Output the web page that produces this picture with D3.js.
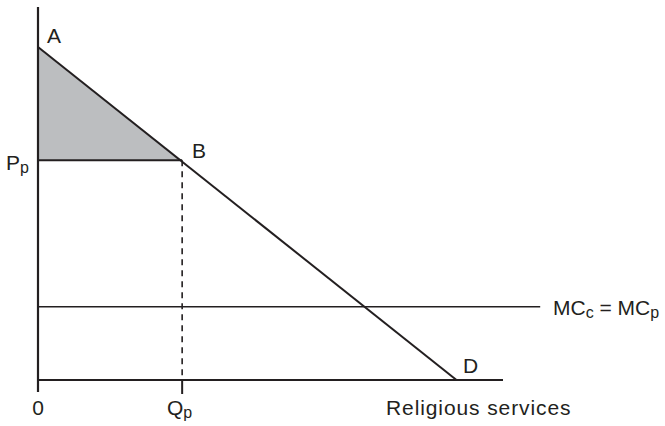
<!DOCTYPE html>
<html>
<head>
<meta charset="utf-8">
<script src="https://cdn.jsdelivr.net/npm/d3@7"></script>
<style>
  body { margin: 0; background: #fff; }
  svg { display: block; }
  text { font-family: "Liberation Sans", Arial, sans-serif; fill: #231f20; }
</style>
</head>
<body>
<svg id="svg" width="665" height="426"></svg>
<script>
// demand curve, quantity vs price (arbitrary units)
var demandQ = [0, 90];
var demandP = [100, 0];
var qp = 31;          // quantity at point B
var pp = 66;          // price at point B
var mc = 22;          // MCc = MCp
var qMax = 100;       // end of the quantity axis
var mcEnd = 108;      // end of the MC line
var pTop = 112;       // top of price axis

var svg = d3.select("#svg");
var ink = "#231f20";

var x = d3.scaleLinear().domain([0, 100]).range([38, 503]);
var y = d3.scaleLinear().domain([0, 100]).range([380, 47]);

var demand = demandQ.map(function (q, i) { return {q: q, p: demandP[i]}; });
var line = d3.line()
    .x(function (d) { return x(d.q); })
    .y(function (d) { return y(d.p); });

// shaded triangle A-B-Pp
svg.append("path")
    .datum([{q: 0, p: demandP[0]}, {q: qp, p: pp}, {q: 0, p: pp}])
    .attr("d", d3.line().x(function (d) { return x(d.q); }).y(function (d) { return y(d.p); }).curve(d3.curveLinearClosed))
    .attr("fill", "#bcbec0")
    .attr("stroke", "none");

// Pp horizontal
svg.append("line")
    .attr("x1", x(0)).attr("x2", x(qp))
    .attr("y1", y(pp)).attr("y2", y(pp))
    .attr("stroke", ink).attr("stroke-width", 2);

// dashed drop line at Qp
svg.append("line")
    .attr("x1", x(qp)).attr("x2", x(qp))
    .attr("y1", y(pp)).attr("y2", y(0))
    .attr("stroke", ink).attr("stroke-width", 1.6)
    .attr("stroke-dasharray", "6,5");

// MC line
svg.append("line")
    .attr("x1", x(0)).attr("x2", x(mcEnd))
    .attr("y1", y(mc)).attr("y2", y(mc))
    .attr("stroke", ink).attr("stroke-width", 1.6);

// demand
svg.append("path")
    .datum(demand)
    .attr("d", line)
    .attr("fill", "none")
    .attr("stroke", ink).attr("stroke-width", 2);

// axes
svg.append("line")
    .attr("x1", x(0)).attr("x2", x(0))
    .attr("y1", y(pTop)).attr("y2", y(0) + 12)
    .attr("stroke", ink).attr("stroke-width", 2.2);
svg.append("line")
    .attr("x1", x(0)).attr("x2", x(qMax))
    .attr("y1", y(0)).attr("y2", y(0))
    .attr("stroke", ink).attr("stroke-width", 2);
svg.append("line")
    .attr("x1", x(qp)).attr("x2", x(qp))
    .attr("y1", y(0)).attr("y2", y(0) + 14)
    .attr("stroke", ink).attr("stroke-width", 2);

// labels: [main, sub] pairs
function label(tx, ty, parts, anchor, spacing) {
    var t = svg.append("text")
        .attr("x", tx).attr("y", ty)
        .attr("font-size", 21)
        .attr("letter-spacing", spacing || 0)
        .attr("text-anchor", anchor || "start");
    parts.forEach(function (p) {
        if (p[0]) t.append("tspan").attr("font-size", 21).text(p[0]);
        if (p[1]) t.append("tspan").attr("font-size", 16).attr("dy", 3).text(p[1]);
    });
    return t;
}

label(47, 43, [["A"]]);
label(192, 158, [["B"]]);
label(463, 373, [["D"]]);
label(6, 170, [["P", "p"]]);
label(x(0), 415, [["0"]], "middle");
label(167, 415, [["Q", "p"]]);

var mcText = label(553, 315, [["MC", "c"]]);
mcText.append("tspan").attr("dy", -3).text(" = MC");
mcText.append("tspan").attr("font-size", 16).attr("dy", 3).text("p");

label(386, 415, [["Religious services"]], "start", 0.9);
</script>
</body>
</html>
